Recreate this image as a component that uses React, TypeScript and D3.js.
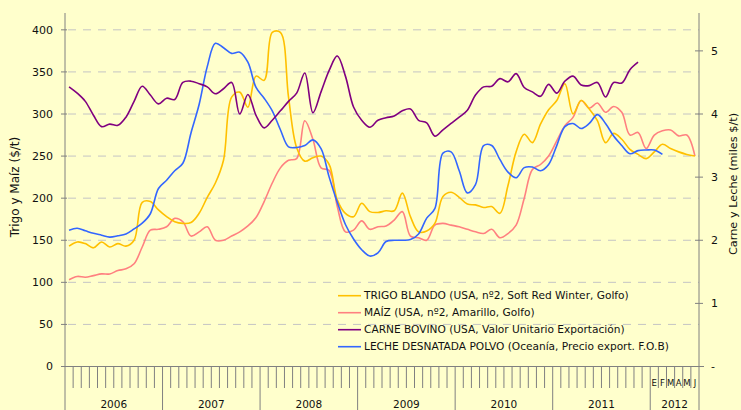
import React from "react";
import * as d3 from "d3";

const trigo = [143,148,146,141,148,142,146,143,150,195,196,186,178,172,170,171,182,201,218,245,320,326,308,345,340,397,397,320,260,244,248,250,240,198,182,178,194,184,183,185,185,206,178,160,161,170,202,207,201,193,192,189,190,182,215,255,276,266,288,305,316,336,300,316,306,292,266,277,270,258,252,247,255,264,259,255,252,250];
const maiz = [103,107,106,108,110,110,114,116,122,142,162,163,166,176,172,155,160,166,150,150,155,160,167,177,196,218,236,245,247,292,270,236,233,190,160,162,173,163,166,167,174,184,155,153,150,168,170,168,166,163,160,158,163,153,158,168,200,234,240,250,268,286,296,316,307,313,302,309,302,275,278,259,275,280,281,274,275,250];
const carne = [4.43,4.33,4.2,3.98,3.8,3.84,3.82,3.95,4.2,4.44,4.3,4.16,4.25,4.23,4.5,4.52,4.48,4.43,4.32,4.4,4.5,4.0,4.31,3.98,3.78,3.9,4.05,4.2,4.33,4.65,4.02,4.35,4.69,4.92,4.6,4.11,3.9,3.79,3.9,3.94,3.97,4.05,4.08,3.9,3.86,3.65,3.75,3.85,3.95,4.06,4.3,4.43,4.44,4.56,4.51,4.64,4.42,4.35,4.28,4.47,4.33,4.52,4.6,4.46,4.45,4.5,4.27,4.5,4.49,4.7,4.82];
const leche = [2.16,2.19,2.15,2.11,2.08,2.05,2.07,2.1,2.18,2.27,2.42,2.82,2.95,3.1,3.22,3.7,4.15,4.75,5.12,5.05,4.96,4.98,4.82,4.42,4.25,4.05,3.75,3.48,3.47,3.5,3.59,3.45,3.0,2.6,2.25,2.02,1.85,1.75,1.8,1.98,2.0,2.0,2.01,2.1,2.35,2.5,3.38,3.4,3.1,2.75,2.88,3.5,3.5,3.28,3.08,2.99,3.15,3.16,3.1,3.2,3.5,3.8,3.85,3.77,3.85,3.99,3.85,3.65,3.5,3.37,3.42,3.43,3.43,3.36];

const years = ["2006","2007","2008","2009","2010","2011","2012"];
const monthsPerYear = [12,12,12,12,12,12,6];
const lastYearMonths = ["E","F","M","A","M","J"];
const leftTicks = [0,50,100,150,200,250,300,350,400];
const rightTicks = [0,1,2,3,4,5];
const rightTickLabels = ["-","1","2","3","4","5"];

const legendItems = [
  { label: "TRIGO BLANDO (USA, nº2, Soft Red Winter, Golfo)", color: "#FFC000" },
  { label: "MAÍZ (USA, nº2, Amarillo, Golfo)", color: "#FF8080" },
  { label: "CARNE BOVINO (USA, Valor Unitario Exportación)", color: "#800080" },
  { label: "LECHE DESNATADA POLVO (Oceanía, Precio export. F.O.B)", color: "#3366FF" },
];

const W = 741, H = 410;
const L = 65, R = 699, T = 13, B = 366.5;
const FONT = "'DejaVu Sans', Verdana, sans-serif";
const AXIS = "#808080";

export default function App() {
  const totalMonths = d3.sum(monthsPerYear);
  const x = d3.scaleLinear().domain([0, totalMonths]).range([L, R]);
  const yL = d3.scaleLinear().domain([0, 420]).range([B, T]);
  const yR = d3.scaleLinear().domain([0, 5.6]).range([B, T]);

  const mk = (scale: d3.ScaleLinear<number, number>) =>
    d3.line<number>().x((_, i) => x(i + 0.5)).y((d) => scale(d)).curve(d3.curveCatmullRom.alpha(0.5));

  const yearStarts: number[] = [];
  let acc = 0;
  monthsPerYear.forEach((m) => { yearStarts.push(acc); acc += m; });
  const monthTicks = d3.range(1, totalMonths).filter((m) => !yearStarts.includes(m));

  const lastStart = yearStarts[yearStarts.length - 1];

  return (
    <svg width={W} height={H} style={{ position: "absolute", left: 0, top: 0, background: "#FFFFCC" }} fontFamily={FONT}>
      <rect x={0} y={0} width={W} height={H} fill="#FFFFCC" />
      {leftTicks.filter((t) => t > 0).map((t) => (
        <line key={"g" + t} x1={L} x2={R} y1={yL(t)} y2={yL(t)} stroke="#C4C4C4" strokeWidth={1} strokeDasharray="8,7" strokeDashoffset={-3} />
      ))}
      {/* left axis */}
      <line x1={L} x2={L} y1={T} y2={H} stroke={AXIS} strokeWidth={1} />
      {leftTicks.map((t) => (
        <g key={"lt" + t}>
          <line x1={L - 4} x2={L + 2} y1={yL(t)} y2={yL(t)} stroke={AXIS} />
          <text x={53} y={yL(t)} dy="0.35em" textAnchor="end" fontSize={11} fill="#111">{t}</text>
        </g>
      ))}
      {/* right axis */}
      <line x1={R} x2={R} y1={T} y2={H} stroke={AXIS} strokeWidth={1} />
      {rightTicks.map((t, i) => (
        <g key={"rt" + t}>
          <line x1={R - 4} x2={R + 4} y1={yR(t)} y2={yR(t)} stroke={AXIS} />
          <text x={711} y={yR(t)} dy="0.35em" textAnchor="start" fontSize={11} fill="#111">{rightTickLabels[i]}</text>
        </g>
      ))}
      {/* x axis */}
      <line x1={L} x2={R + 5} y1={B} y2={B} stroke={AXIS} />
      {monthTicks.map((m) => (
        <line key={"mt" + m} x1={x(m)} x2={x(m)} y1={B} y2={388} stroke={AXIS} />
      ))}
      {yearStarts.slice(1).map((m) => (
        <line key={"yt" + m} x1={x(m)} x2={x(m)} y1={B} y2={H} stroke={AXIS} />
      ))}
      {years.map((yr, i) => (
        <text key={yr} x={x(yearStarts[i] + monthsPerYear[i] / 2)} y={408} textAnchor="middle" fontSize={10.5} fill="#111">{yr}</text>
      ))}
      {lastYearMonths.map((m, i) => (
        <text key={"lm" + i} x={x(lastStart + i + 0.5)} y={386} textAnchor="middle" fontSize={8.5} fill="#111">{m}</text>
      ))}
      {/* axis titles */}
      <text transform={`translate(19,187) rotate(-90)`} textAnchor="middle" fontSize={12} fill="#111">Trigo y Maíz ($/t)</text>
      <text transform={`translate(737,184) rotate(-90)`} textAnchor="middle" fontSize={11.3} fill="#111">Carne y Leche (miles $/t)</text>
      {/* lines */}
      <path d={mk(yL)(maiz) || ""} fill="none" stroke={legendItems[1].color} strokeWidth={1.6} />
      <path d={mk(yL)(trigo) || ""} fill="none" stroke={legendItems[0].color} strokeWidth={1.6} />
      <path d={mk(yR)(leche) || ""} fill="none" stroke={legendItems[3].color} strokeWidth={1.6} />
      <path d={mk(yR)(carne) || ""} fill="none" stroke={legendItems[2].color} strokeWidth={1.6} />
      {/* legend */}
      {legendItems.map((it, i) => (
        <g key={it.label} transform={`translate(338,${295.7 + i * 17})`}>
          <line x1={0} x2={23} y1={0} y2={0} stroke={it.color} strokeWidth={1.6} />
          <text x={26} y={0} dy="0.35em" fontSize={10.6} fill="#111">{it.label}</text>
        </g>
      ))}
    </svg>
  );
}
